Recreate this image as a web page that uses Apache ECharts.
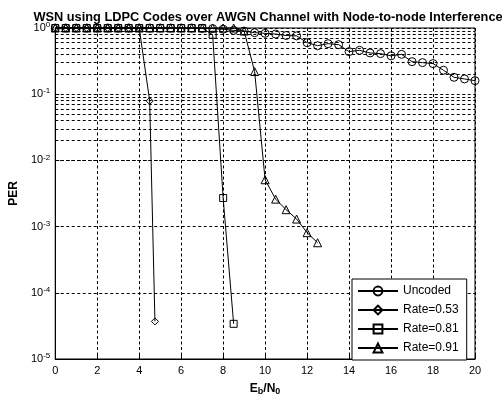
<!DOCTYPE html>
<html>
<head>
<meta charset="utf-8">
<script src="https://cdn.jsdelivr.net/npm/echarts@6/dist/echarts.min.js"></script>
<style>
html,body{margin:0;padding:0;background:#fff}
#chart{width:502px;height:401px}
</style>
</head>
<body>
<div id="chart"></div>
<script>
// Eb/N0 (dB) and PER
var uncodedX = [0,0.5,1,1.5,2,2.5,3,3.5,4,4.5,5,5.5,6,6.5,7,7.5,8,8.5,9,9.5,10,10.5,11,11.5,12,12.5,13,13.5,14,14.5,15,15.5,16,16.5,17,17.5,18,18.5,19,19.5,20];
var uncodedPER = [1,1,1,1,1,1,1,1,1,1,1,1,1,1,0.99,0.98,0.96,0.92,0.9,0.85,0.83,0.81,0.77,0.76,0.6,0.54,0.58,0.56,0.44,0.46,0.42,0.41,0.38,0.4,0.31,0.3,0.29,0.23,0.18,0.17,0.16];

var rate053X = [0,0.5,1,1.5,2,2.5,3,3.5,4,4.5,4.75];
var rate053PER = [1,1,1,1,1,1,1,1,1,0.079,3.7e-5];

var rate081X = [0,0.5,1,1.5,2,2.5,3,3.5,4,4.5,5,5.5,6,6.5,7,7.5,8,8.5];
var rate081PER = [1,1,1,1,1,1,1,1,1,1,1,1,1,1,1,0.79,2.7e-3,3.4e-5];

var rate091X = [0,0.5,1,1.5,2,2.5,3,3.5,4,4.5,5,5.5,6,6.5,7,7.5,8,8.5,9,9.5,10,10.5,11,11.5,12,12.5];
var rate091PER = [1,1,1,1,1,1,1,1,1,1,1,1,1,1,1,1,1,1,0.9,0.22,5.1e-3,2.6e-3,1.8e-3,1.3e-3,8.1e-4,5.7e-4];

var seriesNames = ['Uncoded','Rate=0.53','Rate=0.81','Rate=0.91'];
var seriesSymbols = ['circle','diamond','rect','triangle'];
var symbolSizes = [8, 7, 7, 8];
var xTicks = [0,2,4,6,8,10,12,14,16,18,20];
var decades = [-5,-4,-3,-2,-1,0];
var minorMult = [2,3,4,5,6,7,8,9];

function pairs(xs, ys){
  var out = [];
  for (var i = 0; i < xs.length; i++) out.push([xs[i], ys[i]]);
  return out;
}

// minor log grid lines (2..9 x 10^k)
var minorLines = [];
for (var d = 0; d < decades.length - 1; d++) {
  for (var m = 0; m < minorMult.length; m++) {
    minorLines.push({ yAxis: minorMult[m] * Math.pow(10, decades[d]) });
  }
}

var font = 'Liberation Sans, Arial, Helvetica, sans-serif';
var dash = [3, 2.5];

var allData = [
  pairs(uncodedX, uncodedPER),
  pairs(rate053X, rate053PER),
  pairs(rate081X, rate081PER),
  pairs(rate091X, rate091PER)
];

var series = [];
for (var s = 0; s < seriesNames.length; s++) {
  series.push({
    name: seriesNames[s],
    type: 'line',
    data: allData[s],
    symbol: seriesSymbols[s],
    symbolSize: symbolSizes[s],
    clip: false,
    z: 8 - s,
    lineStyle: { color: '#000', width: 1 },
    itemStyle: { color: 'rgba(0,0,0,0)', borderColor: '#000', borderWidth: 1 }
  });
}
series.push({
  name: 'grid',
  type: 'line',
  data: [],
  silent: true,
  markLine: {
    silent: true,
    symbol: 'none',
    label: { show: false },
    lineStyle: { color: '#000', width: 1, type: dash },
    data: minorLines
  }
});

var chart = echarts.init(document.getElementById('chart'));
chart.setOption({
  animation: false,
  backgroundColor: '#fff',
  textStyle: { fontFamily: font, color: '#000' },
  title: {
    text: 'WSN using LDPC Codes over AWGN Channel with Node-to-node Interference',
    left: 263,
    textAlign: 'center',
    top: 6,
    textStyle: { fontSize: 12.8, fontWeight: 'bold', color: '#000', fontFamily: font }
  },
  grid: {
    left: 53, right: 27, top: 28, bottom: 38,
    show: true, borderColor: '#000', borderWidth: 1
  },
  legend: {
    data: seriesNames,
    orient: 'vertical',
    left: 352,
    top: 279,
    padding: [6, 8, 6, 5],
    itemGap: 7,
    itemWidth: 40,
    itemHeight: 11,
    backgroundColor: '#fff',
    borderColor: '#000',
    borderWidth: 1,
    textStyle: { fontSize: 12, color: '#000', fontFamily: font }
  },
  xAxis: {
    type: 'value',
    min: 0, max: 20, interval: 2,
    name: '{t|E}{s|b}{t|/N}{s|0}',
    nameLocation: 'middle',
    nameGap: 22,
    nameTextStyle: {
      rich: {
        t: { fontSize: 12, fontWeight: 'bold', fontFamily: font, color: '#000' },
        s: { fontSize: 9, fontWeight: 'bold', fontFamily: font, color: '#000', padding: [6, 0, 0, 0] }
      }
    },
    axisLine: { lineStyle: { color: '#000' } },
    axisTick: { inside: true, length: 4, lineStyle: { color: '#000' } },
    axisLabel: { fontSize: 11, color: '#000', margin: 6, fontFamily: font },
    splitLine: { show: true, lineStyle: { color: '#000', type: dash } }
  },
  yAxis: {
    type: 'log',
    logBase: 10,
    min: 1e-5, max: 1,
    name: 'PER',
    nameLocation: 'middle',
    nameGap: 34,
    nameTextStyle: { fontSize: 12, fontWeight: 'bold', color: '#000', fontFamily: font },
    axisLine: { lineStyle: { color: '#000' } },
    axisTick: { inside: true, length: 4, lineStyle: { color: '#000' } },
    axisLabel: {
      margin: 5,
      formatter: function (v) {
        var e = Math.round(Math.log10(v));
        return '{b|10}{e|' + e + '}';
      },
      rich: {
        b: { fontSize: 11, color: '#000', fontFamily: font },
        e: { fontSize: 8, color: '#000', fontFamily: font, verticalAlign: 'top', padding: [0, 0, 6, 0] }
      }
    },
    splitLine: { show: true, lineStyle: { color: '#000', type: dash } }
  },
  series: series
});
</script>
</body>
</html>
